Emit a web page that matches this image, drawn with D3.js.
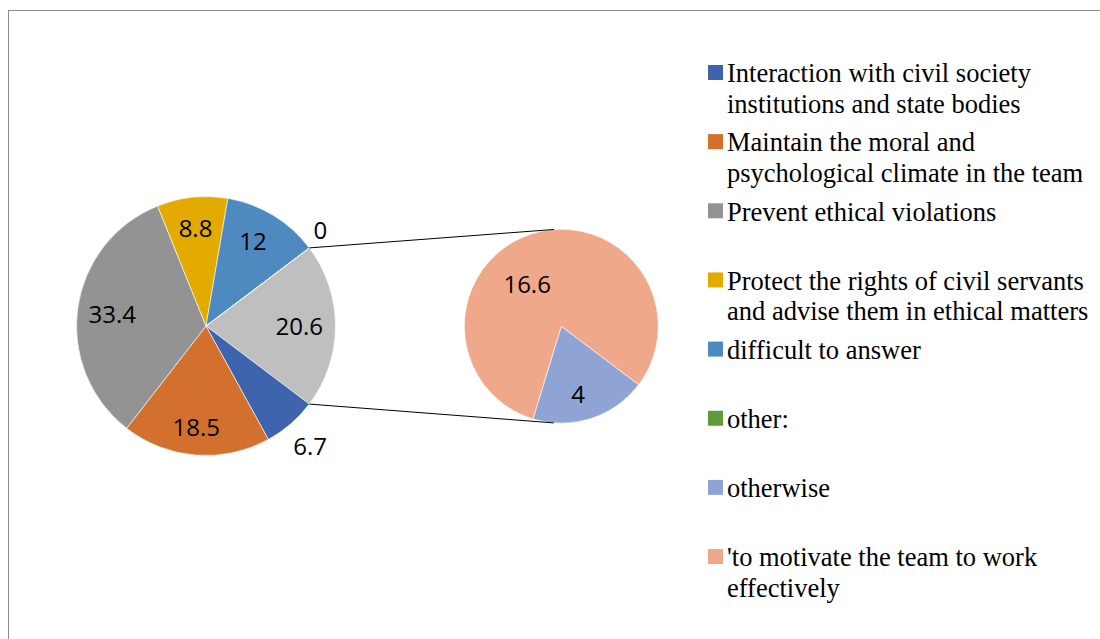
<!DOCTYPE html>
<html>
<head>
<meta charset="utf-8">
<script src="https://cdn.jsdelivr.net/npm/d3@7"></script>
<style>
  html, body { margin: 0; padding: 0; background: #fff; }
  svg { display: block; }
</style>
</head>
<body>
<svg id="chart" width="1100" height="639"></svg>
<script>
// Survey answers: what the ethics commissioner's role should be (percent)
const categories = [
  "Interaction with civil society institutions and state bodies",
  "Maintain the moral and psychological climate in the team",
  "Prevent ethical violations",
  "Protect the rights of civil servants and advise them in ethical matters",
  "difficult to answer",
  "other:",
  "otherwise",
  "'to motivate the team to work effectively"
];
const values = [6.7, 18.5, 33.4, 8.8, 12, 0, 4, 16.6];
// The last two answers are split out into the secondary pie
const secondaryCount = 2;
const colors = ["#3e64ae", "#d4702d", "#939393", "#e3aa00", "#4e8ac0", "#5f9a3c", "#8fa4d5", "#f0a88a"];
const otherColor = "#bfbfbf";

// Label placement: [radius factor, angle nudge in degrees]
const labelLayout = {
  0: [1.23, 0], 1: [0.79, 1], 2: [0.73, -0.6], 3: [0.76, 0], 4: [0.745, -2.2],
  5: [1.15, -2.7], 6: [0.72, 4], 7: [0.56, -21], other: [0.72, 0]
};

const svg = d3.select("#chart");
const W = 1100, H = 639;

// chart frame
svg.append("rect")
  .attr("x", 8.5).attr("y", 10.5)
  .attr("width", W).attr("height", H)
  .attr("fill", "#fff").attr("stroke", "#8c8c8c").attr("stroke-width", 1);

const rows = categories.map((c, i) => ({ i, name: c, value: values[i], color: colors[i] }));
const primaryRows = rows.slice(0, rows.length - secondaryCount);
const secondaryRows = rows.slice(rows.length - secondaryCount);
const otherSum = d3.sum(secondaryRows, d => d.value);
const total = d3.sum(rows, d => d.value);
const fmt = v => String(+v.toFixed(1));

const main = { cx: 206, cy: 326, r: 129.5 };
const sec = { cx: 561.3, cy: 326.2, r: 97 };

// Primary pie: the aggregated slice is centred at 3 o'clock
const otherRow = { i: "other", name: "other", value: otherSum, color: otherColor };
const otherSpan = otherSum / total * 2 * Math.PI;
const mainStart = Math.PI / 2 - otherSpan / 2;
const mainArcs = d3.pie().sort(null).value(d => d.value)
  .startAngle(mainStart).endAngle(mainStart + 2 * Math.PI)([otherRow, ...primaryRows]);
const otherArc = mainArcs[0];

// Secondary pie starts where the aggregated slice ends
const secArcs = d3.pie().sort(null).value(d => d.value)
  .startAngle(otherArc.endAngle).endAngle(otherArc.endAngle + 2 * Math.PI)(secondaryRows);

const arcMain = d3.arc().innerRadius(0).outerRadius(main.r);
const arcSec = d3.arc().innerRadius(0).outerRadius(sec.r);

const gMain = svg.append("g").attr("transform", `translate(${main.cx},${main.cy})`);
const gSec = svg.append("g").attr("transform", `translate(${sec.cx},${sec.cy})`);

gMain.selectAll("path").data(mainArcs).join("path")
  .attr("d", arcMain)
  .attr("fill", d => d.data.color)
  .attr("stroke", "#fff").attr("stroke-width", 0.6);

gSec.selectAll("path").data(secArcs).join("path")
  .attr("d", arcSec)
  .attr("fill", d => d.data.color)
  .attr("stroke", "#fff").attr("stroke-width", 0.6);

// Connector lines: ends of the aggregated slice to tangents of the secondary pie
function tangentPoint(px, py, upper) {
  const dx = px - sec.cx, dy = py - sec.cy;
  const d = Math.hypot(dx, dy);
  const base = Math.atan2(dy, dx);
  const a = Math.acos(sec.r / d);
  const t = upper ? base + a : base - a;
  return [sec.cx + sec.r * Math.cos(t), sec.cy + sec.r * Math.sin(t)];
}
[[otherArc.startAngle, true], [otherArc.endAngle, false]].forEach(([ang, upper]) => {
  const px = main.cx + main.r * Math.sin(ang);
  const py = main.cy - main.r * Math.cos(ang);
  const [tx, ty] = tangentPoint(px, py, upper);
  svg.append("line")
    .attr("x1", px).attr("y1", py).attr("x2", tx).attr("y2", ty)
    .attr("stroke", "#000").attr("stroke-width", 1);
});

// Data labels
const labelFont = 24;
function addLabels(g, arcs, r) {
  g.selectAll("text").data(arcs).join("text")
    .each(function (d) {
      const [k, nudge] = labelLayout[d.data.i];
      const mid = (d.startAngle + d.endAngle) / 2 + nudge * Math.PI / 180;
      d3.select(this)
        .attr("x", r * k * Math.sin(mid))
        .attr("y", -r * k * Math.cos(mid) + labelFont * 0.357);
    })
    .attr("text-anchor", "middle")
    .attr("font-family", "'Open Sans', 'Noto Sans', sans-serif")
    .attr("font-size", labelFont)
    .attr("fill", "#000")
    .text(d => fmt(d.data.value));
}
addLabels(gMain, mainArcs, main.r);
addLabels(gSec, secArcs, sec.r);

// Legend
const legend = { x: 708, y: 65, step: 69.15, box: 15, textX: 727, lineH: 30.5, maxW: 368, font: 26.5 };
const gLeg = svg.append("g");
rows.forEach((d, k) => {
  const top = legend.y + k * legend.step;
  gLeg.append("rect")
    .attr("x", legend.x).attr("y", top)
    .attr("width", legend.box).attr("height", legend.box)
    .attr("fill", d.color);
  const text = gLeg.append("text")
    .attr("x", legend.textX).attr("y", top + 17.3)
    .attr("font-family", "'Liberation Serif', 'Times New Roman', serif")
    .attr("font-size", legend.font)
    .attr("fill", "#000");
  // wrap words into lines no wider than maxW
  const words = d.name.split(" ");
  let line = [], lineNo = 0;
  let tspan = text.append("tspan").attr("x", legend.textX).attr("dy", 0);
  words.forEach(w => {
    line.push(w);
    tspan.text(line.join(" "));
    if (tspan.node().getComputedTextLength() > legend.maxW && line.length > 1) {
      line.pop();
      tspan.text(line.join(" "));
      line = [w];
      lineNo++;
      tspan = text.append("tspan").attr("x", legend.textX).attr("dy", legend.lineH).text(w);
    }
  });
});
</script>
</body>
</html>
